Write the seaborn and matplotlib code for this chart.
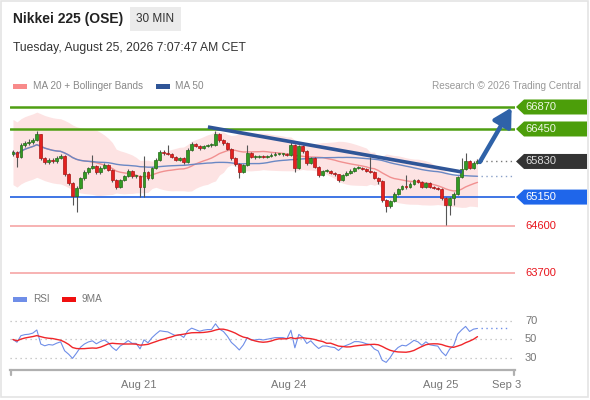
import numpy as np
import pandas as pd
import matplotlib
matplotlib.use("Agg")
import matplotlib.pyplot as plt
import matplotlib.transforms as mtransforms
from matplotlib.patches import Polygon, Rectangle
import seaborn as sns

# ---------------- data ----------------
close = [66010, 65915, 66145, 66185, 66200, 66240, 66355, 65895, 65820, 65860,
         65840, 65895, 65935, 65590, 65420, 65170, 65325, 65515, 65630, 65705,
         65745, 65630, 65705, 65760, 65665, 65475, 65340, 65475, 65550, 65650,
         65550, 65550, 65340, 65630, 65515, 65705, 65860, 66010, 65990, 65975,
         65915, 65860, 65895, 65820, 66050, 66165, 66125, 66085, 66125, 66145,
         66145, 66355, 66240, 66185, 66070, 65895, 65780, 65630, 65760, 65990,
         65915, 65915, 65935, 65915, 65935, 65955, 65975, 65975, 65975, 65955,
         66145, 65705, 66125, 66030, 65800, 65895, 65725, 65570, 65650, 65650,
         65610, 65590, 65475, 65570, 65610, 65650, 65705, 65705, 65685, 65650,
         65630, 65515, 65455, 65095, 64980, 65075, 65210, 65305, 65360, 65340,
         65400, 65475, 65435, 65340, 65420, 65340, 65320, 65305, 65135, 65000,
         65135, 65210, 65535, 65690, 65840, 65705, 65800, 65830]
high = [66050, 66030, 66180, 66220, 66260, 66280, 66410, 66360, 65910, 65900,
        65890, 65930, 65970, 65950, 65610, 65440, 65360, 65540, 65660, 65730,
        65950, 65770, 65740, 65800, 65780, 65690, 65490, 65500, 65580, 65680,
        65670, 65580, 65570, 65935, 65650, 65730, 65890, 66040, 66040, 66145,
        65995, 65930, 65920, 65910, 66080, 66200, 66190, 66140, 66150, 66170,
        66180, 66410, 66380, 66260, 66200, 66090, 65910, 65800, 65790, 66140,
        66010, 65950, 65960, 65950, 65960, 66000, 66010, 66000, 66000, 65990,
        66240, 66160, 66150, 66140, 66050, 65920, 65910, 65740, 65670, 65680,
        65670, 65630, 65600, 65600, 65640, 65680, 65730, 65740, 65720, 65700,
        65915, 65650, 65530, 65470, 65110, 65100, 65240, 65330, 65390, 65570,
        65430, 65500, 65490, 65450, 65440, 65430, 65360, 65340, 65320, 65150,
        65160, 65240, 65560, 65900, 65990, 65860, 65830, 65870]
low = [65940, 65725, 65890, 66110, 66150, 66170, 66220, 65860, 65780, 65780,
       65800, 65800, 65870, 65560, 65380, 65000, 64870, 65300, 65480, 65600,
       65680, 65600, 65600, 65680, 65640, 65440, 65300, 65320, 65450, 65530,
       65520, 65520, 65150, 65150, 65480, 65490, 65680, 65840, 65960, 65950,
       65890, 65830, 65840, 65790, 65800, 66030, 66100, 66050, 66060, 66100,
       66110, 66120, 66210, 66150, 66040, 65860, 65740, 65520, 65610, 65740,
       65890, 65880, 65890, 65890, 65900, 65910, 65940, 65950, 65940, 65930,
       65940, 65630, 65690, 66000, 65770, 65780, 65700, 65540, 65550, 65620,
       65590, 65560, 65440, 65450, 65550, 65590, 65630, 65680, 65660, 65630,
       65610, 65490, 65400, 65060, 64870, 64950, 65060, 65190, 65290, 65310,
       65320, 65380, 65410, 65320, 65320, 65320, 65300, 65280, 65100, 64620,
       64810, 65000, 65190, 65510, 65670, 65680, 65690, 65780]
first_open = 65970

resist_levels = [66870, 66450]
pivot_level = 65150
support_levels = [64600, 63700]
last_price = 65830

trend_x = [49.1, 113.1]
trend_y = [66488, 65629]
arrow_from = (117.6, 65820)
arrow_to = (125.6, 66860)

tick_labels = ["Aug 21", "Aug 24", "Aug 25", "Sep 3"]
tick_pos = [31.7, 69.5, 107.8, 124.4]
rsi_levels = [70, 50, 30]

# ---------------- derived indicators ----------------
df = pd.DataFrame({"close": close, "high": high, "low": low})
df["idx"] = np.arange(len(df))
df["open"] = np.r_[first_open, df["close"].values[:-1]]
df["ma20"] = df["close"].rolling(20, min_periods=1).mean()
sd = df["close"].rolling(20, min_periods=2).std(ddof=0)
sd.iloc[:19] = sd.iloc[19]          # warm-up: use first full-window deviation
df["bb_up"] = df["ma20"] + 2 * sd
df["bb_lo"] = df["ma20"] - 2 * sd
df["ma50"] = df["close"].rolling(50, min_periods=1).mean()

# Wilder RSI(14), seeded neutrally for the warm-up
d = np.diff(df["close"].values, prepend=df["close"].values[0])
seed = np.mean(np.abs(d[1:15])) / 2
ag, al = seed, seed
rsi = []
for v in d:
    ag = (ag * 13 + max(v, 0)) / 14
    al = (al * 13 + max(-v, 0)) / 14
    rsi.append(100 - 100 / (1 + ag / al) if al > 0 else 100)
df["rsi"] = rsi
df["rsi_ma"] = df["rsi"].rolling(9, min_periods=1).mean()

# ---------------- style ----------------
sns.set_theme(style="white")
plt.rcParams["font.family"] = ["Liberation Sans", "DejaVu Sans"]

W, H = 590, 400
fig = plt.figure(figsize=(W / 100, H / 100), dpi=100)
fig.patch.set_facecolor("white")
fx = lambda x: x / W
fy = lambda y: 1 - y / H

fig.patches.append(Rectangle((fx(1), fy(397)), fx(588) - fx(1), fy(1) - fy(397),
                             transform=fig.transFigure, fill=False,
                             edgecolor="#e4e4e4", lw=1.2))

# header
fig.text(fx(13), fy(19), "Nikkei 225 (OSE)", fontsize=10, fontweight="bold",
         color="#222222", va="center", ha="left")
fig.patches.append(Rectangle((fx(130), fy(31)), fx(181) - fx(130), fy(7) - fy(31),
                             transform=fig.transFigure, facecolor="#ebebeb",
                             edgecolor="none"))
fig.text(fx(155.5), fy(19), "30 MIN", fontsize=8.5, color="#333333",
         va="center", ha="center")
fig.text(fx(13), fy(48), "Tuesday, August 25, 2026 7:07:47 AM CET", fontsize=8.7,
         color="#333333", va="center", ha="left")

# legend
LFS = 7.2
fig.patches.append(Rectangle((fx(13), fy(88.5)), fx(14), 5 / H,
                             transform=fig.transFigure, facecolor="#f88a8a", edgecolor="none"))
fig.text(fx(33), fy(86), "MA 20 + Bollinger Bands", fontsize=LFS, color="#888888",
         va="center", ha="left")
fig.patches.append(Rectangle((fx(156), fy(88.5)), fx(14), 5 / H,
                             transform=fig.transFigure, facecolor="#2f5597", edgecolor="none"))
fig.text(fx(175), fy(86), "MA 50", fontsize=LFS, color="#888888", va="center", ha="left")
fig.text(fx(581), fy(86), "Research \u00a9 2026 Trading Central", fontsize=LFS,
         color="#999999", va="center", ha="right")

# ---------------- price axes ----------------
ax = fig.add_axes([fx(10), fy(285), 505 / W, 190 / H])
ax.set_xlim(-0.756, 126.45)
ax.set_ylim(63471, 67099)
ax.axis("off")

ax.fill_between(df["idx"], df["bb_lo"], df["bb_up"], color="#fde3e3", lw=0, zorder=1)

for lv in resist_levels:
    ax.axhline(lv, color="#4f9f12", lw=1.8, zorder=2)
ax.axhline(pivot_level, color="#1f5fe0", lw=1.2, zorder=2)
for lv in support_levels:
    ax.axhline(lv, color="#f6a5a5", lw=1.2, zorder=2)

sns.lineplot(data=df, x="idx", y="ma20", ax=ax, color="#f19090", lw=1.0, zorder=3)
sns.lineplot(data=df, x="idx", y="ma50", ax=ax, color="#6a88c4", lw=1.0, zorder=3)

up = df["close"] >= df["open"]
body_col = np.where(up, "#339a22", "#e3211f")
edge_col = np.where(up, "#256b1a", "#a81616")
ax.vlines(df["idx"], df["low"], df["high"], colors="#555555", lw=0.8, zorder=4)
bot = np.minimum(df["open"], df["close"])
hgt = np.maximum(np.abs(df["close"] - df["open"]), 12)
ax.bar(df["idx"], hgt, bottom=bot, width=0.72, color=body_col, edgecolor=edge_col,
       lw=0.5, zorder=5)

ax.plot(trend_x, trend_y, color="#2f5597", lw=2.6, solid_capstyle="butt", zorder=6)
ax.annotate("", xy=arrow_to, xytext=arrow_from,
            arrowprops=dict(arrowstyle="-|>,head_length=0.9,head_width=0.5",
                            lw=3.2, color="#2f62a8", shrinkA=0, shrinkB=0),
            zorder=7, annotation_clip=False)

last_i = df["idx"].iloc[-1]
ax.plot([last_i + 0.8, 126.45], [last_price, last_price], color="#777777", lw=1.0,
        ls=(0, (1, 2.5)), zorder=6)
ma50_last = df["ma50"].iloc[-1]
ax.plot([last_i + 0.8, 126.45], [ma50_last, ma50_last], color="#8aa0c8", lw=1.0,
        ls=(0, (1, 2.5)), zorder=6)

bt = mtransforms.blended_transform_factory(fig.transFigure, ax.transData)
hh = 7.5 / 0.05237


def tag(p, fc, tc):
    pts = [(fx(516), p), (fx(524), p + hh), (fx(587), p + hh), (fx(587), p - hh),
           (fx(524), p - hh)]
    ax.add_patch(Polygon(pts, closed=True, transform=bt, facecolor=fc,
                         edgecolor="none", clip_on=False, zorder=8))
    ax.text(fx(525), p, f"{p}", transform=bt, fontsize=8, color=tc, va="center",
            ha="left", zorder=9, clip_on=False)


for lv in resist_levels:
    tag(lv, "#4c9e0a", "#eef7e4")
tag(last_price, "#333333", "#dddddd")
tag(pivot_level, "#1f66ea", "#ffffff")
for lv in support_levels:
    ax.text(fx(525), lv, f"{lv}", transform=bt, fontsize=8, color="#e8141c",
            va="center", ha="left", clip_on=False)

# ---------------- RSI axes ----------------
rax = fig.add_axes([fx(10), fy(370), 505 / W, 60 / H])
rax.set_xlim(-0.756, 126.45)
rax.set_ylim(17.0, 81.9)
for s in ["top", "left", "right"]:
    rax.spines[s].set_visible(False)
rax.spines["bottom"].set_color("#b0b0b0")
rax.spines["bottom"].set_linewidth(1.6)
rax.set_yticks([])
rax.set_facecolor("none")

rbt = mtransforms.blended_transform_factory(fig.transFigure, rax.transData)
for lv in rsi_levels:
    rax.axhline(lv, color="#bbbbbb", lw=0.9, ls=(0, (1, 3)), zorder=1)
    rax.text(fx(525), lv, f"{lv}", transform=rbt, fontsize=8, color="#777777",
             va="center", ha="left", clip_on=False)

sns.lineplot(data=df, x="idx", y="rsi", ax=rax, color="#6f8ee8", lw=0.8, zorder=3)
sns.lineplot(data=df, x="idx", y="rsi_ma", ax=rax, color="#f0262a", lw=1.0, zorder=4)
rsi_last = df["rsi"].iloc[-1]
rax.plot([last_i + 0.8, 125], [rsi_last, rsi_last], color="#6f8ee8", lw=1.0,
         ls=(0, (1, 2.5)), zorder=3)
rax.set_xticks(tick_pos)
rax.set_xticklabels(tick_labels)
rax.tick_params(axis="x", length=0, pad=7, labelsize=8, labelcolor="#777777")
rax.set_xlabel("")
rax.set_ylabel("")

for xe in [fx(11), fx(514)]:
    fig.lines.append(plt.Line2D([xe, xe], [fy(370), fy(375)], transform=fig.transFigure,
                                color="#b0b0b0", lw=1.6))

# RSI legend
fig.patches.append(Rectangle((fx(13), fy(301.5)), fx(14), 5 / H,
                             transform=fig.transFigure, facecolor="#6f8ee8", edgecolor="none"))
fig.text(fx(33), fy(299), "RSI", fontsize=LFS, color="#777777", va="center", ha="left")
fig.patches.append(Rectangle((fx(62), fy(301.5)), fx(14), 5 / H,
                             transform=fig.transFigure, facecolor="#f01010", edgecolor="none"))
fig.text(fx(82), fy(299), "9MA", fontsize=LFS, color="#777777", va="center", ha="left")

fig.savefig("out.png", dpi=100)
